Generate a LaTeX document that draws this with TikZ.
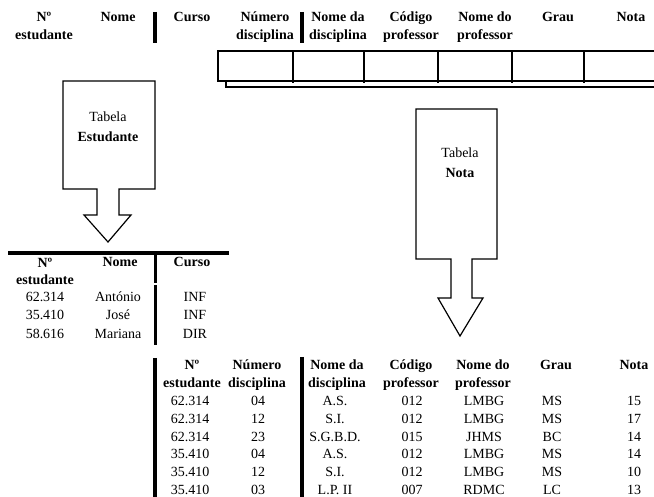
\documentclass[tikz,border=0pt]{standalone}
\usepackage{fontspec}
\setmainfont{Liberation Serif}
\usetikzlibrary{positioning}

\newcommand{\tsize}{\fontsize{14}{17.5}\selectfont}

\tikzset{
    hdr/.style={font=\tsize\bfseries, align=center, anchor=base, inner sep=0pt},
    cell/.style={font=\tsize, anchor=base, inner sep=0pt},
    thickbar/.style={line width=4pt},
    rulebar/.style={line width=3.5pt},
    outline/.style={line width=1.2pt, fill=white, line join=miter}
}

\begin{document}
\begin{tikzpicture}[x=1pt, y=-1pt]
    \useasboundingbox (0,0) rectangle (654,497);

    % header of the source document (two-line nodes sit on their last baseline)
    \node[hdr] (h-num)   at (44,39.5)  {Nº\\estudante};
    \node[hdr] (h-nome)  at (118,22)   {Nome};
    \node[hdr] (h-curso) at (192,22)   {Curso};
    \node[hdr] (h-disc)  at (265,39.5) {Número\\disciplina};
    \node[hdr] (h-ndisc) at (338,39.5) {Nome da\\disciplina};
    \node[hdr] (h-cprof) at (411,39.5) {Código\\professor};
    \node[hdr] (h-nprof) at (485,39.5) {Nome do\\professor};
    \node[hdr] (h-grau)  at (558,22)   {Grau};
    \node[hdr] (h-nota)  at (631,22)   {Nota};
    \draw[thickbar] (155,12) -- (155,43);
    \draw[thickbar] (302,12) -- (302,43);

    % record boxes
    \draw[outline] (226,57) rectangle (666,87);
    \draw[outline] (218,51) rectangle (658,81);
    \foreach \x in {293,364,438,512,584}
        \draw[line width=1.2pt] (\x,51) -- (\x,83);

    % arrow to table Estudante
    \draw[outline] (63,81) -- (155,81) -- (155,189) -- (119,189) -- (119,215)
        -- (131,215) -- (108,242) -- (84,215) -- (97,215) -- (97,189)
        -- (63,189) -- cycle;
    \node[cell] (t-est1) at (108,121.5) {Tabela};
    \node[cell, font=\tsize\bfseries] (t-est2) at (108,142) {Estudante};

    % arrow to table Nota
    \draw[outline] (416,109) -- (497,109) -- (497,259) -- (472,259) -- (472,298)
        -- (483,298) -- (460,336) -- (438,298) -- (451,298) -- (451,259)
        -- (416,259) -- cycle;
    \node[cell] (t-nota1) at (460,158) {Tabela};
    \node[cell, font=\tsize\bfseries] (t-nota2) at (460,178) {Nota};

    % table Estudante
    \draw[rulebar] (8,253) -- (229,253);
    \draw[line width=3pt] (155,253) -- (155,283);
    \draw[line width=3pt] (155,285) -- (155,345);
    \node[hdr] (e-num)   at (45,285)  {Nº\\estudante};
    \node[hdr] (e-nome)  at (120,267) {Nome};
    \node[hdr] (e-curso) at (192,267) {Curso};
    \foreach \n/\nome/\curso [count=\i] in
        {62.314/António/INF, 35.410/José/INF, 58.616/Mariana/DIR} {
        \node[cell] (e-num-\i)   at (45,284+18*\i)  {\n};
        \node[cell] (e-nome-\i)  at (118,284+18*\i) {\nome};
        \node[cell] (e-curso-\i) at (195,284+18*\i) {\curso};
    }

    % table Nota
    \draw[rulebar] (155,358) -- (155,497);
    \draw[rulebar] (302,357) -- (302,497);
    \node[hdr] (n-num)   at (192,387.5) {Nº\\estudante};
    \node[hdr] (n-disc)  at (257,387.5) {Número\\disciplina};
    \node[hdr] (n-ndisc) at (337,387.5) {Nome da\\disciplina};
    \node[hdr] (n-cprof) at (411,387.5) {Código\\professor};
    \node[hdr] (n-nprof) at (483,387.5) {Nome do\\professor};
    \node[hdr] (n-grau)  at (556,370)   {Grau};
    \node[hdr] (n-nota)  at (634,370)   {Nota};
    \foreach \n/\d/\nd/\cp/\np/\g/\v [count=\i] in
        {62.314/04/A.S./012/LMBG/MS/15,
         62.314/12/S.I./012/LMBG/MS/17,
         62.314/23/S.G.B.D./015/JHMS/BC/14,
         35.410/04/A.S./012/LMBG/MS/14,
         35.410/12/S.I./012/LMBG/MS/10,
         35.410/03/L.P. II/007/RDMC/LC/13} {
        \node[cell] (n-num-\i)   at (190,388.4+17.6*\i) {\n};
        \node[cell] (n-disc-\i)  at (258,388.4+17.6*\i) {\d};
        \node[cell] (n-ndisc-\i) at (335,388.4+17.6*\i) {\nd};
        \node[cell] (n-cprof-\i) at (412,388.4+17.6*\i) {\cp};
        \node[cell] (n-nprof-\i) at (484,388.4+17.6*\i) {\np};
        \node[cell] (n-grau-\i)  at (552,388.4+17.6*\i) {\g};
        \node[cell] (n-nota-\i)  at (634,388.4+17.6*\i) {\v};
    }
\end{tikzpicture}
\end{document}
